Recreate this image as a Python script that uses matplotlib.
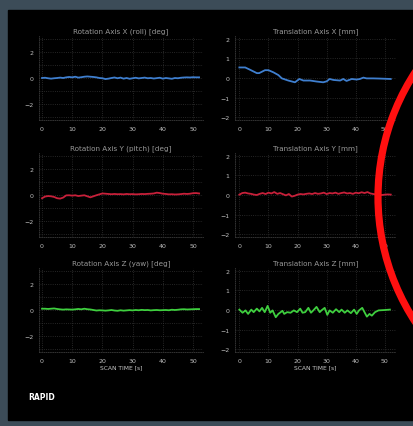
import matplotlib
matplotlib.use("Agg")
import matplotlib.pyplot as plt
from matplotlib.patches import Rectangle, Circle

# scan time axis shared by the smoother traces
time = list(range(53))

rot_x = [0.0, 0.02, -0.02, -0.05, -0.02, 0.0, 0.03, 0.0, 0.05, 0.08, 0.05, 0.1, 0.03,
         0.06, 0.1, 0.12, 0.1, 0.08, 0.05, 0.0, -0.02, -0.08, -0.05, 0.0, 0.04, -0.02,
         0.03, -0.05, 0.0, -0.06, -0.02, 0.02, -0.03, 0.0, 0.03, -0.02, 0.0, -0.04,
         -0.01, 0.02, -0.05, 0.0, -0.03, -0.06, 0.0, -0.02, 0.02, 0.04, 0.05, 0.04,
         0.06, 0.05, 0.05]

rot_y = [-0.25, -0.12, -0.08, -0.1, -0.15, -0.25, -0.28, -0.2, -0.03, -0.02, -0.05,
         -0.02, -0.08, -0.05, -0.02, -0.1, -0.18, -0.1, -0.02, 0.05, 0.12, 0.1, 0.08,
         0.06, 0.08, 0.06, 0.07, 0.05, 0.08, 0.06, 0.07, 0.05, 0.06, 0.08, 0.07, 0.09,
         0.1, 0.12, 0.18, 0.15, 0.1, 0.08, 0.05, 0.06, 0.04, 0.05, 0.07, 0.1, 0.08,
         0.1, 0.14, 0.15, 0.12]

rot_z = [0.1, 0.1, 0.08, 0.1, 0.12, 0.08, 0.05, 0.03, 0.05, 0.04, 0.03, 0.05, 0.08,
         0.05, 0.1, 0.06, 0.04, 0.0, -0.04, -0.02, -0.03, -0.05, -0.03, 0.0, -0.04,
         -0.06, -0.02, -0.05, -0.03, -0.01, -0.03, 0.0, -0.02, 0.01, -0.01, 0.0, -0.03,
         -0.01, 0.0, -0.02, -0.01, 0.0, -0.02, 0.02, 0.0, 0.02, 0.05, 0.06, 0.04, 0.05,
         0.06, 0.07, 0.07]

trans_y = [0.02, 0.1, 0.12, 0.08, 0.06, 0.02, 0.0, 0.06, 0.1, 0.05, 0.12, 0.08, 0.15,
           0.06, 0.1, 0.04, -0.02, 0.05, -0.08, -0.04, 0.02, 0.05, 0.03, 0.06, 0.08,
           0.05, 0.1, 0.06, 0.08, 0.12, 0.05, 0.1, 0.08, 0.12, 0.06, 0.1, 0.13, 0.08,
           0.1, 0.06, 0.12, 0.09, 0.14, 0.1, 0.15, 0.08, 0.05, 0.03, 0.01, 0.0, 0.02,
           0.03, 0.02]

trans_x_t = [0, 2, 3.7, 6, 6.8, 8.8, 10, 11.7, 13.4, 14.6, 16.8, 19.1, 20.6, 22, 24.3,
             26.5, 28.8, 30, 31, 32.3, 34.6, 35.7, 36.8, 38.6, 40.3, 41.4, 42.6, 43.7,
             46, 48.4, 52]
trans_x = [0.54, 0.54, 0.42, 0.25, 0.25, 0.4, 0.4, 0.29, 0.15, -0.02, -0.13, -0.22,
           -0.05, -0.13, -0.13, -0.18, -0.22, -0.17, -0.05, -0.1, -0.13, -0.05, -0.15,
           -0.05, -0.08, -0.05, 0.02, -0.02, -0.02, -0.03, -0.05]

trans_z_t = [0, 1.1, 2.1, 3.0, 4.1, 4.9, 6.0, 6.9, 7.8, 8.7, 9.7, 10.6, 11.4, 12.5,
             13.4, 14.8, 15.4, 16.4, 17.6, 18.7, 19.8, 20.9, 21.7, 22.6, 23.7, 24.6,
             25.4, 26.5, 27.6, 28.2, 29.3, 30.2, 31.0, 32.1, 33.2, 34.3, 35.1, 36.2,
             37.1, 38.3, 39.4, 40.3, 41.1, 42.2, 43.3, 43.8, 44.7, 45.5, 46.6, 47.8,
             50.0, 51.7]
trans_z = [0.02, -0.14, -0.02, -0.2, 0.02, -0.11, 0.07, -0.07, 0.11, -0.11, 0.21,
           -0.14, -0.02, -0.37, -0.2, -0.04, -0.2, -0.11, -0.14, -0.02, -0.11, 0.07,
           -0.14, -0.11, 0.11, -0.14, -0.02, 0.16, -0.11, -0.02, 0.11, -0.25, -0.02,
           -0.14, 0.04, -0.11, 0.02, -0.14, -0.02, -0.16, 0.02, -0.2, -0.02, 0.11, -0.2,
           -0.34, -0.2, -0.29, -0.11, -0.02, 0.0, 0.02]

titles = [["Rotation Axis X (roll) [deg]", "Translation Axis X [mm]"],
          ["Rotation Axis Y (pitch) [deg]", "Translation Axis Y [mm]"],
          ["Rotation Axis Z (yaw) [deg]", "Translation Axis Z [mm]"]]

series = [[(time, rot_x), (trans_x_t, trans_x)],
          [(time, rot_y), (time, trans_y)],
          [(time, rot_z), (trans_z_t, trans_z)]]

colors = ["#3f7fcf", "#c8203a", "#3fcf3f"]

W, H = 413, 427
fig = plt.figure(figsize=(W / 100, H / 100), dpi=100)
fig.patch.set_facecolor("#3c4c58")

# dark panel behind the plots
bg = fig.add_axes([0, 0, 1, 1], zorder=0)
bg.set_xlim(0, W)
bg.set_ylim(H, 0)
bg.axis("off")
bg.add_patch(Rectangle((8, 11), W - 8, 410, color="black"))

row_top = [37, 154, 269]
row_h = 84
col_left = [39, 235]
col_w = [164, 161]
col_xlim = [(-1, 53.3), (-1.5, 53.8)]

for r in range(3):
    for c in range(2):
        ax = fig.add_axes([col_left[c] / W, 1 - (row_top[r] + row_h) / H,
                           col_w[c] / W, row_h / H], zorder=1)
        ax.set_facecolor("none")
        t, v = series[r][c]
        ax.plot(t, v, color=colors[r], lw=1.3)
        ax.set_xlim(*col_xlim[c])
        if c == 0:
            ax.set_ylim(-3.25, 3.25)
            ax.set_yticks([-2, 0, 2])
            ax.set_yticks([-3, -1, 1, 3], minor=True)
        else:
            ax.set_ylim(-2.15, 2.15)
            ax.set_yticks([-2, -1, 0, 1, 2])
        ax.set_xticks([0, 10, 20, 30, 40, 50])
        ax.grid(True, which="both", color="#333333", lw=0.6, ls=":")
        ax.tick_params(colors="#bdbdbd", labelsize=4.5, length=0, pad=4)
        ax.tick_params(which="minor", length=0)
        for side in ["top", "right"]:
            ax.spines[side].set_visible(False)
        for side in ["left", "bottom"]:
            ax.spines[side].set_color("#3a3a3a")
            ax.spines[side].set_linestyle(":")
            ax.spines[side].set_linewidth(0.6)
        ax.set_title(titles[r][c], color="#989898", fontsize=5.2, pad=3)
        if r == 2:
            ax.set_xlabel("SCAN TIME [s]", color="#c8c8c8", fontsize=4.3, labelpad=1)

fig.text(28 / W, 1 - 398 / H, "RAPID", color="white", fontsize=5.5,
         fontweight="bold", va="center", ha="left")

# red highlight ring over the right edge
top = fig.add_axes([0, 0, 1, 1], zorder=5)
top.set_xlim(0, W)
top.set_ylim(H, 0)
top.axis("off")
top.patch.set_alpha(0)
top.add_patch(Circle((606, 198), 228, fill=False, edgecolor="#ff1010", lw=5.2))

fig.savefig("out.png", dpi=100, facecolor=fig.get_facecolor())
